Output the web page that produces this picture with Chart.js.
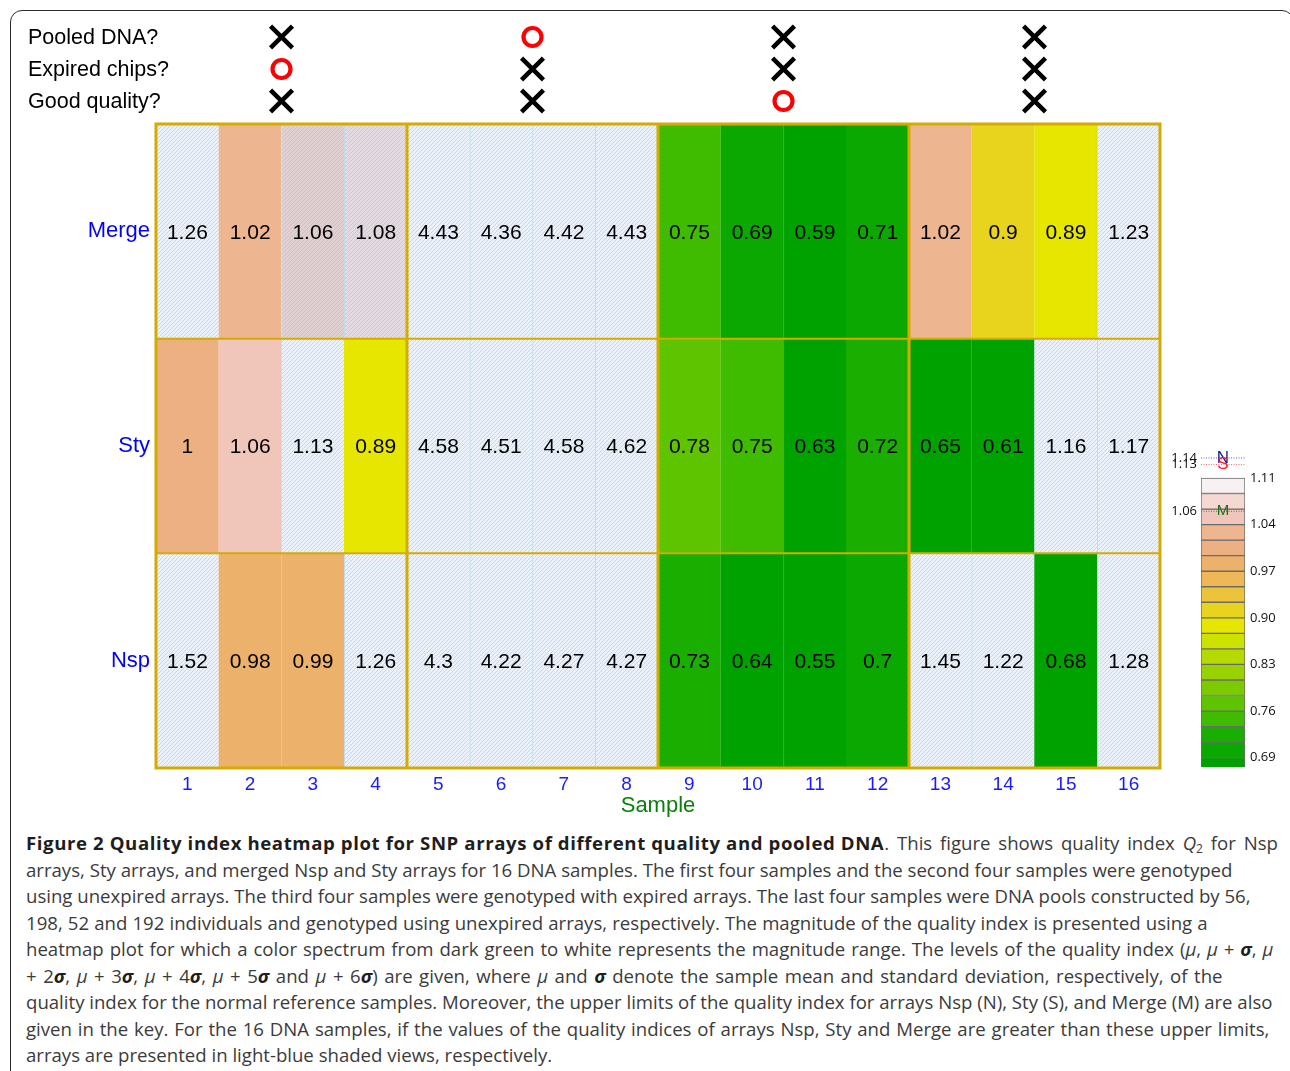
<!DOCTYPE html>
<html>
<head>
<meta charset="utf-8">
<script src="https://cdn.jsdelivr.net/npm/chart.js@4.4.1/dist/chart.umd.min.js"></script>
<style>
  html, body { margin: 0; padding: 0; background: #fff; }
  body { width: 1290px; height: 1071px; position: relative; overflow: hidden; font-family: "Liberation Sans", Arial, sans-serif; }
  #frame { position: absolute; left: 10px; top: 10px; width: 1284px; height: 1100px; border: 1.6px solid #2b2b2b; border-radius: 12px; box-sizing: border-box; }
  canvas { position: absolute; }
  #flags { left: 0; top: 0; }
  #heat { left: 0; top: 120px; }
  #key { left: 1160px; top: 440px; }
  #caption { position: absolute; left: 26px; top: 830px; font-family: "Open Sans", sans-serif; font-size: 18.6px; line-height: 26.5px; color: #3b3b3b; white-space: nowrap; }
  #caption b { color: #1e1e1e; letter-spacing: 0.6px; }
  #caption i b, #caption b i { letter-spacing: 0; }
  #caption sub { font-size: 12px; line-height: 0; vertical-align: -3px; }
</style>
</head>
<body>
<div id="frame"></div>
<canvas id="flags" width="1170" height="120"></canvas>
<canvas id="heat" width="1170" height="700"></canvas>
<canvas id="key" width="130" height="340"></canvas>
<div id="caption">
  <div><b>Figure 2 Quality index heatmap plot for SNP arrays of different quality and pooled DNA</b><span style="word-spacing:3px">. This figure shows quality index <i>Q</i><sub>2</sub> for Nsp</span></div>
  <div>arrays, Sty arrays, and merged Nsp and Sty arrays for 16 DNA samples. The first four samples and the second four samples were genotyped</div>
  <div>using unexpired arrays. The third four samples were genotyped with expired arrays. The last four samples were DNA pools constructed by 56,</div>
  <div style="word-spacing:0.3px">198, 52 and 192 individuals and genotyped using unexpired arrays, respectively. The magnitude of the quality index is presented using a</div>
  <div style="word-spacing:1.1px">heatmap plot for which a color spectrum from dark green to white represents the magnitude range. The levels of the quality index (<i>μ</i>, <i>μ</i> + <b><i>σ</i></b>, <i>μ</i></div>
  <div style="word-spacing:1.7px">+ 2<b><i>σ</i></b>, <i>μ</i> + 3<b><i>σ</i></b>, <i>μ</i> + 4<b><i>σ</i></b>, <i>μ</i> + 5<b><i>σ</i></b> and <i>μ</i> + 6<b><i>σ</i></b>) are given, where <i>μ</i> and <b><i>σ</i></b> denote the sample mean and standard deviation, respectively, of the</div>
  <div>quality index for the normal reference samples. Moreover, the upper limits of the quality index for arrays Nsp (N), Sty (S), and Merge (M) are also</div>
  <div style="word-spacing:1px">given in the key. For the 16 DNA samples, if the values of the quality indices of arrays Nsp, Sty and Merge are greater than these upper limits,</div>
  <div>arrays are presented in light-blue shaded views, respectively.</div>
</div>
<script>
// ---- data ----
const samples = ['1','2','3','4','5','6','7','8','9','10','11','12','13','14','15','16'];
const rowNames = ['Nsp', 'Sty', 'Merge'];            // bottom to top
const nspQ   = [1.52, 0.98, 0.99, 1.26, 4.3, 4.22, 4.27, 4.27, 0.73, 0.64, 0.55, 0.7, 1.45, 1.22, 0.68, 1.28];
const styQ   = [1, 1.06, 1.13, 0.89, 4.58, 4.51, 4.58, 4.62, 0.78, 0.75, 0.63, 0.72, 0.65, 0.61, 1.16, 1.17];
const mergeQ = [1.26, 1.02, 1.06, 1.08, 4.43, 4.36, 4.42, 4.43, 0.75, 0.69, 0.59, 0.71, 1.02, 0.9, 0.89, 1.23];
const upperLimits = [1.14, 1.13, 1.06];               // Nsp, Sty, Merge
const limitTags = ['N', 'S', 'M'];
const keyLevels = [0.69, 0.76, 0.83, 0.90, 0.97, 1.04, 1.11];   // mu .. mu + 6 sigma
const keyColors = ['#00a200', '#0aa800', '#1aae00', '#40bc00', '#5ec400', '#7cca00', '#98d200',
                   '#b4da00', '#cce200', '#e6e600', '#e8d41c', '#ecc43a', '#eeb856', '#ecb16a',
                   '#edb082', '#eeb690', '#efc6b9', '#f5d8d2', '#f7f1f3'];
const questions = ['Pooled DNA?', 'Expired chips?', 'Good quality?'];
const groups = [[1, 4], [5, 8], [9, 12], [13, 16]];
const pooledDNA    = [false, true, false, false];
const expiredChips = [true, false, false, false];
const goodQuality  = [false, false, true, false];

// ---- colour helpers ----
const GOLD = '#d4ab00';
const step = (keyLevels[1] - keyLevels[0]) / 3;
function levelColor(v) {
  if (v >= keyLevels[keyLevels.length - 1]) return '#ffffff';
  let k = Math.floor((v - keyLevels[0]) / step + 1e-9) + 1;
  k = Math.max(0, Math.min(keyColors.length - 1, k));
  return keyColors[k];
}
const hatchCache = {};
function hatch(base) {
  if (hatchCache[base]) return hatchCache[base];
  const s = 4;
  const c = document.createElement('canvas');
  c.width = s; c.height = s;
  const g = c.getContext('2d');
  g.fillStyle = base; g.fillRect(0, 0, s, s);
  g.fillStyle = 'rgba(205,222,245,0.42)'; g.fillRect(0, 0, s, s);
  g.strokeStyle = 'rgba(160,185,220,0.45)'; g.lineWidth = 1;
  g.beginPath();
  g.moveTo(-1, s + 1); g.lineTo(s + 1, -1);
  g.moveTo(-1, 1); g.lineTo(1, -1);
  g.moveTo(s - 1, s + 1); g.lineTo(s + 1, s - 1);
  g.stroke();
  hatchCache[base] = g.createPattern(c, 'repeat');
  return hatchCache[base];
}
// keep tick labels from reserving extra room above/below the plot
function noLabelPadding(s) { s.paddingTop = 0; s.paddingBottom = 0; }

Chart.defaults.font.family = '"Liberation Sans", Arial, sans-serif';
Chart.defaults.animation = false;

// ---- heatmap ----
const rowValues = [nspQ, styQ, mergeQ];
const heatDatasets = rowNames.map((name, r) => ({
  label: name,
  data: rowValues[r].map(() => [r, r + 1]),
  backgroundColor: rowValues[r].map(v => v >= upperLimits[r] ? hatch(levelColor(v)) : levelColor(v)),
  borderColor: rowValues[r].map(v => v >= upperLimits[r] ? '#bfdcee' : levelColor(v)),
  borderWidth: { left: 1, right: 0, top: 0, bottom: 0 },
  borderSkipped: false,
  grouped: false,
  barPercentage: 1,
  categoryPercentage: 1
}));

const heatDecor = {
  id: 'heatDecor',
  afterDatasetsDraw(chart) {
    const { ctx, chartArea: a, scales: { x, y } } = chart;
    ctx.save();
    ctx.strokeStyle = GOLD;
    ctx.lineWidth = 2;
    for (let r = 1; r < rowNames.length; r++) {
      const py = y.getPixelForValue(r);
      ctx.beginPath(); ctx.moveTo(a.left, py); ctx.lineTo(a.right, py); ctx.stroke();
    }
    ctx.lineWidth = 3;
    groups.slice(1).forEach(gr => {
      const i = samples.indexOf(String(gr[0]));
      const px = (x.getPixelForValue(i - 1) + x.getPixelForValue(i)) / 2;
      ctx.beginPath(); ctx.moveTo(px, a.top); ctx.lineTo(px, a.bottom); ctx.stroke();
    });
    ctx.strokeRect(a.left, a.top, a.right - a.left, a.bottom - a.top);
    // cell values
    ctx.fillStyle = '#000';
    ctx.font = '21px "Liberation Sans", Arial, sans-serif';
    ctx.textAlign = 'center';
    ctx.textBaseline = 'middle';
    rowValues.forEach((vals, r) => {
      chart.getDatasetMeta(r).data.forEach((el, j) => {
        const p = el.getProps(['x', 'y', 'base'], true);
        ctx.fillText(String(vals[j]), p.x, (p.y + p.base) / 2 + 1.5);
      });
    });
    ctx.restore();
  }
};

new Chart(document.getElementById('heat'), {
  type: 'bar',
  data: { labels: samples, datasets: heatDatasets },
  options: {
    responsive: false,
    layout: { autoPadding: false, padding: { left: 0, right: 10, top: 4, bottom: 0 } },
    plugins: { legend: { display: false }, tooltip: { enabled: false } },
    scales: {
      x: {
        type: 'category', offset: true,
        grid: { display: false, drawTicks: false }, border: { display: false },
        ticks: { color: '#1a1aff', font: { size: 19 }, padding: 5, maxRotation: 0, autoSkip: false },
        title: { display: true, text: 'Sample', color: '#0b800b', font: { size: 22 }, padding: { top: 0, bottom: 1 } },
        afterFit(s) { s.height = 52; s.paddingLeft = 0; s.paddingRight = 0; }
      },
      y: {
        type: 'linear', min: 0, max: 3,
        grid: { display: false, drawTicks: false }, border: { display: false },
        afterBuildTicks(s) { s.ticks = rowNames.map((_, i) => ({ value: i + 0.5 })); },
        ticks: { color: '#0000ff', font: { size: 22 }, padding: 6, autoSkip: false, callback: v => rowNames[Math.floor(v)] },
        afterFit(s) { s.width = 156; noLabelPadding(s); }
      }
    }
  },
  plugins: [heatDecor]
});

// ---- sample-group flags ----
const flagRows = [pooledDNA, expiredChips, goodQuality];
const yesPts = [], noPts = [];
flagRows.forEach((flags, q) => flags.forEach((f, g) => {
  const pt = { x: (groups[g][0] + groups[g][1]) / 2, y: questions[q] };
  (f ? yesPts : noPts).push(pt);
}));

// question labels, left aligned at the start of the chart canvas
const questionLabels = {
  id: 'questionLabels',
  afterDraw(chart) {
    const { ctx, scales: { y } } = chart;
    ctx.save();
    ctx.fillStyle = '#000';
    ctx.font = '21.5px "Liberation Sans", Arial, sans-serif';
    ctx.textAlign = 'left';
    ctx.textBaseline = 'middle';
    questions.forEach((q, i) => ctx.fillText(q, chart.options.layout.padding.left, y.getPixelForValue(i) + 1));
    ctx.restore();
  }
};

new Chart(document.getElementById('flags'), {
  type: 'scatter',
  data: {
    datasets: [
      { label: 'yes', data: yesPts, pointStyle: 'circle', pointRadius: 9, borderWidth: 4.2,
        borderColor: '#ff0000', backgroundColor: 'rgba(0,0,0,0)', clip: false },
      { label: 'no', data: noPts, pointStyle: 'crossRot', pointRadius: 15.5, borderWidth: 4.5,
        borderColor: '#000', backgroundColor: '#000', clip: false }
    ]
  },
  options: {
    responsive: false,
    layout: { autoPadding: false, padding: { left: 28, right: 10, top: 21, bottom: 3 } },
    plugins: { legend: { display: false }, tooltip: { enabled: false } },
    scales: {
      x: { type: 'linear', min: 0.5, max: 16.5, display: false },
      y: {
        type: 'category', labels: questions, offset: true,
        grid: { display: false, drawTicks: false }, border: { display: false },
        ticks: { display: false },
        afterFit(s) { s.width = 128; noLabelPadding(s); }
      }
    }
  },
  plugins: [questionLabels]
});

// ---- colour key ----
const keyBins = keyColors.map((_, i) => {
  const lo = keyLevels[0] + (i - 1) * step;
  return { x: 'key', y: [lo, lo + step] };
});

const keyLimits = {
  id: 'keyLimits',
  afterDatasetsDraw(chart) {
    const { ctx, chartArea: a, scales: { y } } = chart;
    const tagColors = ['#1c1c8e', '#ff1a1a', '#1d6e1d'];
    const lineColors = ['#5a5ad8', '#ff5a5a', '#3f8a3f'];
    const tagSizes = [17, 17, 15];
    ctx.save();
    upperLimits.forEach((lim, i) => {
      const py = y.getPixelForValue(lim);
      ctx.strokeStyle = lineColors[i];
      ctx.lineWidth = 1;
      ctx.setLineDash([1, 1.5]);
      ctx.beginPath(); ctx.moveTo(a.left, py); ctx.lineTo(a.right, py); ctx.stroke();
      ctx.setLineDash([]);
      ctx.textBaseline = 'middle';
      ctx.textAlign = 'center';
      ctx.fillStyle = tagColors[i];
      ctx.font = tagSizes[i] + 'px "Liberation Sans", Arial, sans-serif';
      ctx.fillText(limitTags[i], (a.left + a.right) / 2, py);
      ctx.textAlign = 'right';
      ctx.fillStyle = '#111';
      ctx.font = '13px "Open Sans", sans-serif';
      ctx.fillText(lim.toFixed(2), a.left - 4, py);
    });
    ctx.restore();
  }
};

new Chart(document.getElementById('key'), {
  type: 'bar',
  data: {
    labels: ['key'],
    datasets: [{
      data: keyBins,
      backgroundColor: keyColors,
      borderColor: '#6b6b6b',
      borderWidth: 1,
      borderSkipped: false,
      barPercentage: 1,
      categoryPercentage: 1
    }]
  },
  options: {
    responsive: false,
    layout: { autoPadding: false, padding: { left: 41, right: 0, top: 12, bottom: 13 } },
    plugins: { legend: { display: false }, tooltip: { enabled: false } },
    scales: {
      x: { display: false },
      y: {
        type: 'linear', position: 'right', min: 0.676, max: 1.149,
        grid: { display: false, drawTicks: false }, border: { display: false },
        afterBuildTicks(s) { s.ticks = keyLevels.map(v => ({ value: v })); },
        ticks: { color: '#111', font: { size: 13, family: '"Open Sans", sans-serif' }, padding: 5, autoSkip: false,
                 callback: v => Number(v).toFixed(2) },
        afterFit(s) { s.width = 45; noLabelPadding(s); }
      }
    }
  },
  plugins: [keyLimits]
});
</script>
</body>
</html>
